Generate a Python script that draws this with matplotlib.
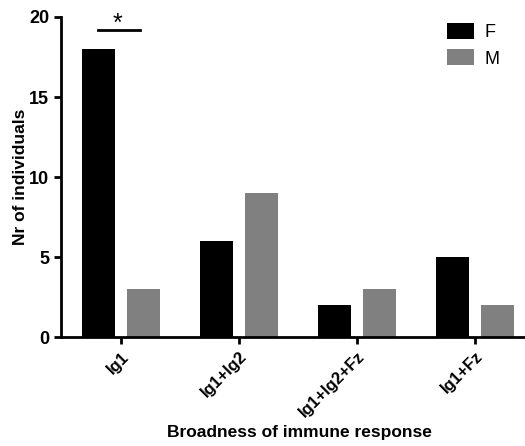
import numpy as np
import matplotlib
matplotlib.use("Agg")
from matplotlib import pyplot as plt

categories = ["Ig1", "Ig1+Ig2", "Ig1+Ig2+Fz", "Ig1+Fz"]
female = [18, 6, 2, 5]
male = [3, 9, 3, 2]

plt.rcParams['font.family'] = ['Liberation Sans', 'DejaVu Sans']

fig = plt.figure(figsize=(5.25, 4.46), dpi=100)
ax = fig.add_axes([0.116, 0.244, 0.884, 0.718])

x = np.arange(len(categories))
w = 0.28
ax.bar(x - 0.19, female, w, color="black", label="F")
ax.bar(x + 0.19, male, w, color="#808080", label="M")

# significance bar over Ig1
ax.plot([-0.2, 0.16], [19.2, 19.2], color="black", lw=2)
ax.text(-0.03, 18.8, "*", ha="center", va="bottom", fontsize=18, clip_on=False)

ax.set_xlim(-0.51, 3.42)
ax.set_ylim(0, 20)
ax.set_yticks([0, 5, 10, 15, 20])
ax.set_xticks(x)
ax.set_xticklabels(categories, rotation=45, ha="right", rotation_mode="anchor",
                   fontsize=12, fontweight="bold")
for lab in ax.get_yticklabels():
    lab.set_fontweight("bold")
    lab.set_fontsize(13)
ax.spines["top"].set_visible(False)
ax.spines["right"].set_visible(False)
ax.spines["left"].set_linewidth(2)
ax.spines["bottom"].set_linewidth(2)
ax.tick_params(width=2, length=5)
ax.set_ylabel("Nr of individuals", fontsize=12.5, fontweight="bold")
ax.yaxis.set_label_coords(-0.07, 0.5)
fig.text(0.57, 0.03, "Broadness of immune response", fontsize=12.5,
         fontweight="bold", ha="center", va="center")

ax.legend(loc="upper right", frameon=False, fontsize=13, handlelength=1.45,
          handleheight=1.0, handletextpad=0.6, labelspacing=0.45,
          bbox_to_anchor=(0.98, 1.032))

fig.savefig("out.png", dpi=100)
